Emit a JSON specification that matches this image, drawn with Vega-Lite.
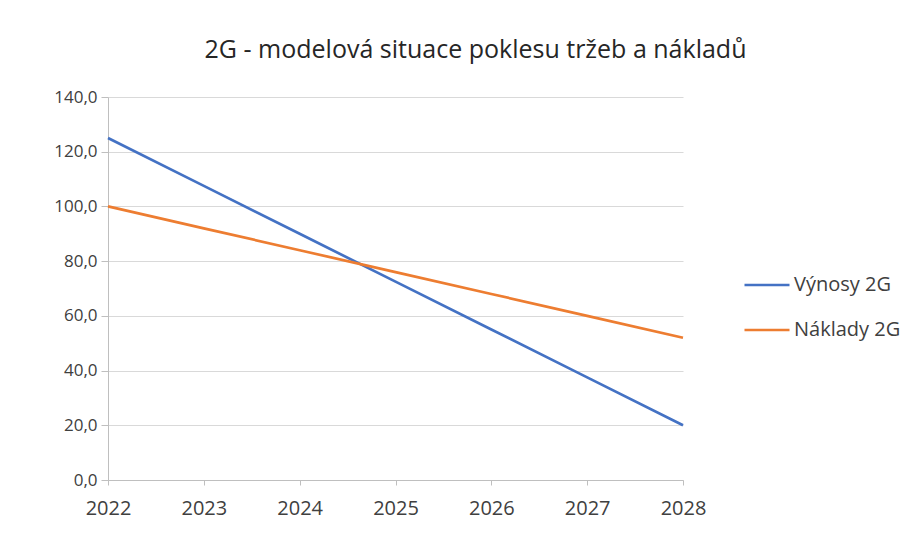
{
  "$schema": "https://vega.github.io/schema/vega-lite/v6.json",
  "width": 575,
  "height": 383,
  "autosize": {"type": "none"},
  "padding": {"left": 108, "top": 97, "right": 240, "bottom": 53},
  "background": "white",
  "title": {
    "text": "2G - modelová situace poklesu tržeb a nákladů",
    "anchor": "middle",
    "dx": 80,
    "offset": 25,
    "font": "Open Sans",
    "fontSize": 25,
    "fontWeight": "normal",
    "color": "#262626"
  },
  "data": {
    "values": [
      {"rok": 2022, "serie": "Výnosy 2G", "hodnota": 125},
      {"rok": 2023, "serie": "Výnosy 2G", "hodnota": 107.5},
      {"rok": 2024, "serie": "Výnosy 2G", "hodnota": 90},
      {"rok": 2025, "serie": "Výnosy 2G", "hodnota": 72.5},
      {"rok": 2026, "serie": "Výnosy 2G", "hodnota": 55},
      {"rok": 2027, "serie": "Výnosy 2G", "hodnota": 37.5},
      {"rok": 2028, "serie": "Výnosy 2G", "hodnota": 20},
      {"rok": 2022, "serie": "Náklady 2G", "hodnota": 100},
      {"rok": 2023, "serie": "Náklady 2G", "hodnota": 92},
      {"rok": 2024, "serie": "Náklady 2G", "hodnota": 84},
      {"rok": 2025, "serie": "Náklady 2G", "hodnota": 76},
      {"rok": 2026, "serie": "Náklady 2G", "hodnota": 68},
      {"rok": 2027, "serie": "Náklady 2G", "hodnota": 60},
      {"rok": 2028, "serie": "Náklady 2G", "hodnota": 52}
    ]
  },
  "mark": {"type": "line", "strokeWidth": 2.7},
  "encoding": {
    "x": {
      "field": "rok",
      "type": "quantitative",
      "scale": {"domain": [2022, 2028], "nice": false, "zero": false},
      "axis": {
        "title": null,
        "format": "d",
        "values": [2022, 2023, 2024, 2025, 2026, 2027, 2028],
        "grid": false,
        "domainColor": "#bfbfbf",
        "tickColor": "#bfbfbf",
        "tickSize": 5,
        "labelPadding": 13,
        "labelFontSize": 20,
        "labelFlush": false
      }
    },
    "y": {
      "field": "hodnota",
      "type": "quantitative",
      "scale": {"domain": [0, 140], "nice": false},
      "axis": {
        "title": null,
        "format": ".1f",
        "values": [0, 20, 40, 60, 80, 100, 120, 140],
        "gridColor": "#d9d9d9",
        "domainColor": "#bfbfbf",
        "tickColor": "#bfbfbf",
        "tickSize": 7,
        "labelPadding": 4,
        "labelFontSize": 17
      }
    },
    "color": {
      "field": "serie",
      "type": "nominal",
      "sort": ["Výnosy 2G", "Náklady 2G"],
      "scale": {"domain": ["Výnosy 2G", "Náklady 2G"], "range": ["#4472C4", "#ED7D31"]},
      "legend": {
        "title": null,
        "orient": "none",
        "legendX": 635,
        "legendY": 164,
        "symbolType": "stroke",
        "symbolSize": 2025,
        "symbolStrokeWidth": 2.7,
        "labelFontSize": 20,
        "labelFont": "Open Sans",
        "labelColor": "#404040",
        "labelOffset": 3,
        "rowPadding": 11
      }
    }
  },
  "config": {
    "locale": {
      "number": {"decimal": ",", "thousands": " ", "grouping": [3], "currency": ["", " Kč"]}
    },
    "view": {"stroke": null},
    "axis": {
      "labelFont": "Open Sans",
      "labelColor": "#404040"
    }
  }
}
